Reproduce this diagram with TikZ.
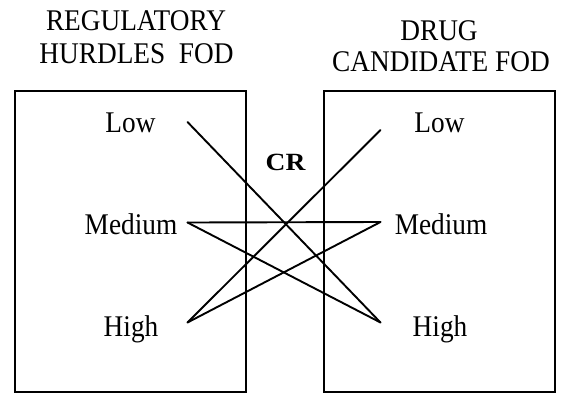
\documentclass[tikz,border=0pt]{standalone}
\usepackage{fontspec}
\setmainfont{Liberation Serif}
\newcommand{\vst}[1]{\scalebox{1}[1.1]{#1}}
\tikzset{
  lbl/.style={anchor=base, inner sep=0pt, font=\fontsize{27.3}{30}\selectfont},
  crlbl/.style={anchor=base, inner sep=0pt, font=\fontsize{27.5}{30}\selectfont\bfseries},
  panel/.style={draw=black, line width=2pt},
  link/.style={draw=black, line width=1.9pt, line cap=round}
}
\begin{document}
\begin{tikzpicture}[x=1pt,y=-1pt]
\useasboundingbox (0,0) rectangle (561,394);
\fill[white] (0,0) rectangle (561,394);
% boxes
\draw[panel] (14.5,91) rectangle (245.7,392);
\draw[panel] (324,91) rectangle (555,392);
% titles
\node[lbl] (t1a) at (136,30) {\vst{REGULATORY}};
\node[lbl] (t1b) at (136.5,63) {\vst{HURDLES\ \ FOD}};
\node[lbl] (t2a) at (439,40) {\vst{DRUG}};
\node[lbl] (t2b) at (441,71.7) {\vst{CANDIDATE FOD}};
% labels
\node[lbl] (ll) at (130.5,132) {\vst{Low}};
\node[lbl] (lm) at (131,234) {\vst{Medium}};
\node[lbl] (lh) at (131,336) {\vst{High}};
\node[lbl] (rl) at (439.5,132) {\vst{Low}};
\node[lbl] (rm) at (441,234) {\vst{Medium}};
\node[lbl] (rh) at (440,336) {\vst{High}};
\node[crlbl] (cr) at (285.5,170.5) {\scalebox{1}[0.9]{CR}};
% connector end points
\coordinate (pl1) at (187.5,122);
\coordinate (pl2) at (187.5,222.5);
\coordinate (pl3) at (187.5,322.5);
\coordinate (pr1) at (380.5,130);
\coordinate (pr2) at (380.5,222);
\coordinate (pr3) at (380.5,322.5);
% connectors
\draw[link] (pl1) -- (pr3);
\draw[link] (pl2) -- (pr2);
\draw[link] (pl2) -- (pr3);
\draw[link] (pl3) -- (pr1);
\draw[link] (pl3) -- (pr2);
\end{tikzpicture}
\end{document}
